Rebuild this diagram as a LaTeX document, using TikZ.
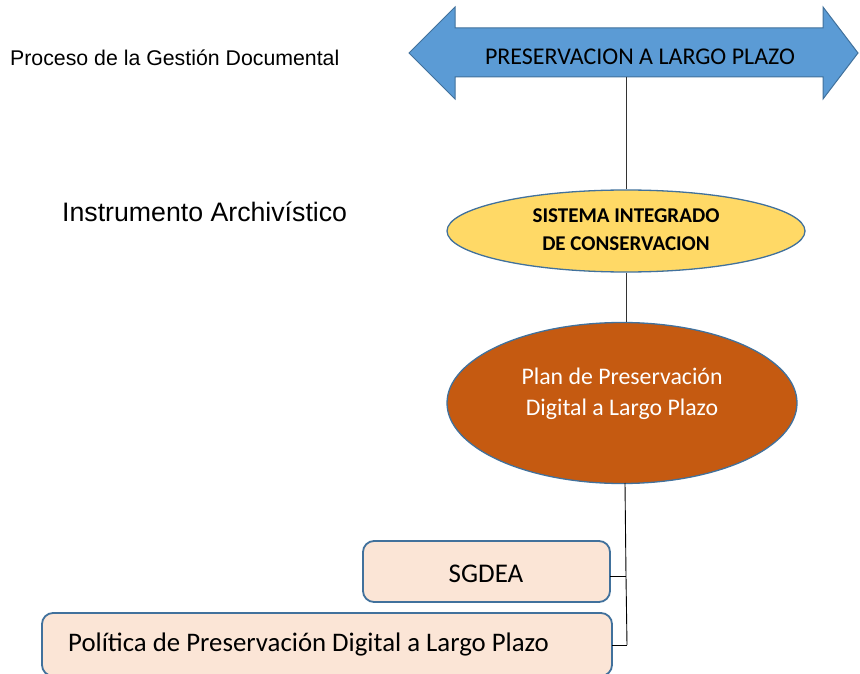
\documentclass[tikz,border=0pt]{standalone}
\usepackage{fontspec}
\setmainfont{Carlito}
\newfontfamily\arialfont{Liberation Sans}
\usetikzlibrary{shapes.geometric}
\definecolor{arrowblue}{HTML}{5B9BD5}
\definecolor{edgeblue}{HTML}{41719C}
\definecolor{sunyellow}{HTML}{FFD966}
\definecolor{rust}{HTML}{C55A11}
\definecolor{peach}{HTML}{FBE5D6}
\tikzset{
  ell/.style={ellipse, draw=edgeblue, line width=1.3pt, inner sep=0pt},
  pbox/.style={draw=edgeblue, fill=peach, line width=1.8pt, rounded corners=11pt},
  conn/.style={draw=black!80, line width=1pt},
}
\begin{document}
\begin{tikzpicture}[x=1pt,y=-1pt]
\useasboundingbox (0,0) rectangle (860,674);
% double arrow
\draw[fill=arrowblue, draw=edgeblue, line width=1pt]
  (409,53) -- (455,7) -- (455,28) -- (823,28) -- (823,7) -- (858,53)
  -- (823,99) -- (823,77) -- (455,77) -- (455,99) -- cycle;
\node[font=\fontsize{24}{28}\selectfont] (arrowtxt) at (640,57) {PRESERVACION A LARGO PLAZO};
\coordinate (arrowbot) at (626,77);
% left labels
\node[anchor=west, font=\arialfont\fontsize{21.3}{24}\selectfont, inner sep=0pt] (proc) at (10,58) {Proceso de la Gestión Documental};
\node[anchor=west, font=\arialfont\fontsize{26.7}{30}\selectfont, inner sep=0pt] (instr) at (62,212) {Instrumento Archivístico};
% ellipses
\node[ell, fill=sunyellow, minimum width=358pt, minimum height=82pt] (sic) at (626,231) {};
\node[align=center, font=\bfseries\fontsize{21}{28}\selectfont] (sictxt) at (626,230) {SISTEMA INTEGRADO\\DE CONSERVACION};
\node[ell, fill=rust, minimum width=350pt, minimum height=161pt] (plan) at (622,403) {};
\node[align=center, text=white, font=\fontsize{23.8}{31}\selectfont] (plantxt) at (622,394) {Plan de Preservación\\Digital a Largo Plazo};
% boxes
\draw[pbox] (363,541) rectangle (610,602);
\node[font=\fontsize{27}{30}\selectfont] (sgdea) at (486,574) {SGDEA};
\coordinate (sgdeaR) at (610,576);
\draw[pbox] (42,613) rectangle (612,676);
\node[anchor=west, inner sep=0pt, font=\fontsize{26.8}{30}\selectfont] (pol) at (68,644) {Política de Preservación Digital a Largo Plazo};
\coordinate (polR) at (612,645);
% connectors
\draw[conn] (arrowbot) -- (sic.north);
\draw[conn] (sic.south) -- (plan.north -| sic.south);
\coordinate (jtop) at (625,483);
\coordinate (j1) at (626,576);
\coordinate (j2) at (627,645);
\draw[line width=0.9pt] (jtop) -- (j1) -- (j2);
\draw[line width=0.9pt] (sgdeaR) -- (j1);
\draw[line width=0.9pt] (polR) -- (j2);
\end{tikzpicture}
\end{document}
